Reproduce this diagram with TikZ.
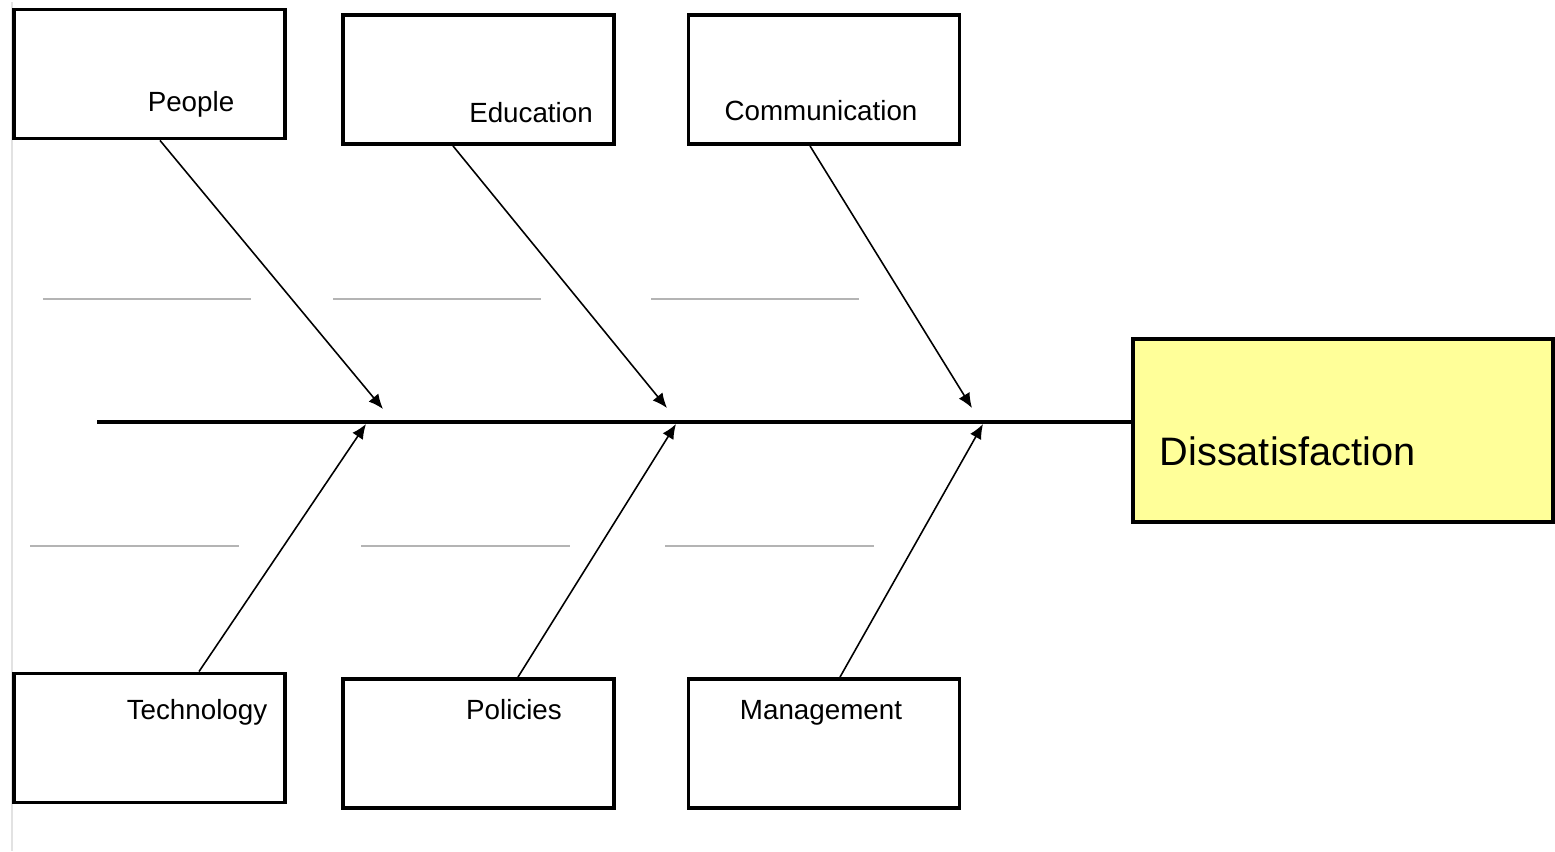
\documentclass[tikz,border=0pt]{standalone}
\usepackage{xcolor}
\usepackage{fontspec}
\setmainfont{Liberation Sans}
\usepackage{tikz}
\usetikzlibrary{arrows.meta}
\usetikzlibrary{calc}
\usetikzlibrary{arrows,shapes,positioning}

\definecolor{effectyellow}{HTML}{FFFF99}
\definecolor{blankgray}{HTML}{B4B4B4}
\definecolor{edgegray}{HTML}{E2E2E2}

\tikzset{
  cause/.style={draw, line width=1.1pt, minimum width=2.71cm, minimum height=1.29cm, inner sep=0pt},
  causetext/.style={font=\fontsize{7.9}{9}\selectfont, inner sep=0pt},
  bone/.style={line width=0.45pt, -{Latex[length=4.2pt,width=3.6pt]}},
  blank/.style={blankgray, line width=0.7pt}
}

\begin{document}
\begin{tikzpicture}
        \useasboundingbox (0,0) rectangle (15.55,-8.51);
        % Fishbone diagram for dissatisfaction
        \draw[edgegray, line width=0.5pt] (0.12,-0.02) -- (0.12,-8.51);

        \node[cause] (people) at (1.495,-0.74) {};
        \node[cause] (education) at (4.785,-0.795) {};
        \node[cause] (communication) at (8.24,-0.795) {};
        \node[cause] (technology) at (1.495,-7.38) {};
        \node[cause] (policies) at (4.785,-7.435) {};
        \node[cause] (management) at (8.24,-7.435) {};
        \node[draw, line width=1.1pt, fill=effectyellow, minimum width=4.2cm, minimum height=1.83cm] (effect) at (13.43,-4.305) {};

        \node[causetext] (peoplelbl) at (1.91,-1.04) {People};
        \node[causetext] (educationlbl) at (5.31,-1.13) {Education};
        \node[causetext] (communicationlbl) at (8.21,-1.11) {Communication};
        \node[causetext] (technologylbl) at (1.97,-7.12) {Technology};
        \node[causetext] (policieslbl) at (5.14,-7.10) {Policies};
        \node[causetext] (managementlbl) at (8.21,-7.13) {Management};
        \node[font=\fontsize{11.3}{13}\selectfont, inner sep=0pt, anchor=west] (effectlbl) at (11.59,-4.51) {Dissatisfaction};

        % spine
        \coordinate (tail) at (0.97,-4.22);
        \draw[line width=0.9pt] (tail) -- (tail -| effect.west);

        % blank lines for sub-causes
        \foreach \x in {0.43,3.33,6.51} \draw[blank] (\x,-2.99) -- ++(2.08,0);
        \foreach \x in {0.30,3.61,6.65} \draw[blank] (\x,-5.46) -- ++(2.09,0);

        % bones
        \coordinate (a1) at (3.83,-4.09);
        \coordinate (a2) at (6.67,-4.08);
        \coordinate (a3) at (9.72,-4.08);
        \coordinate (b1) at (3.66,-4.24);
        \coordinate (b2) at (6.76,-4.24);
        \coordinate (b3) at (9.83,-4.24);

        \draw[bone] ([xshift=1.05mm]people.south) -- (a1);
        \draw[bone] ([xshift=-2.55mm]education.south) -- (a2);
        \draw[bone] ([xshift=-1.4mm]communication.south) -- (a3);
        \draw[bone] ([xshift=4.95mm]technology.north) -- (b1);
        \draw[bone] ([xshift=3.95mm]policies.north) -- (b2);
        \draw[bone] ([xshift=1.6mm]management.north) -- (b3);
    \end{tikzpicture}
\end{document}
